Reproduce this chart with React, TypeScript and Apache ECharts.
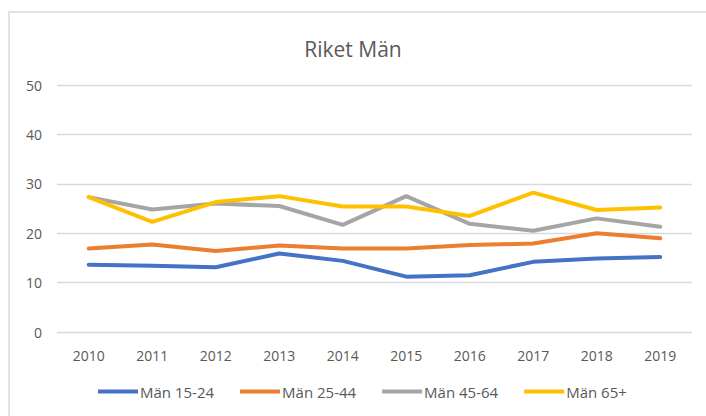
import React, { useEffect, useRef } from "react";
import * as echarts from "echarts";

const years = ["2010", "2011", "2012", "2013", "2014", "2015", "2016", "2017", "2018", "2019"];
const man1524 = [13.6, 13.4, 13.1, 15.9, 14.4, 11.2, 11.5, 14.2, 14.9, 15.2];
const man2544 = [16.9, 17.7, 16.4, 17.5, 16.9, 16.9, 17.6, 17.9, 20.0, 19.0];
const man4564 = [27.3, 24.8, 26.0, 25.5, 21.7, 27.5, 21.9, 20.5, 23.0, 21.3];
const man65 = [27.3, 22.3, 26.3, 27.5, 25.4, 25.4, 23.5, 28.2, 24.7, 25.2];
const seriesNames = ["Män 15-24", "Män 25-44", "Män 45-64", "Män 65+"];
const colors = ["#4472C4", "#ED7D31", "#A5A5A5", "#FFC000"];

export default function App() {
  const ref = useRef<HTMLDivElement>(null);
  useEffect(() => {
    if (!ref.current) return;
    const chart = echarts.init(ref.current, null, { renderer: "svg" });
    const font = "'Open Sans', sans-serif";
    const data = [man1524, man2544, man4564, man65];
    chart.setOption({
      animation: false,
      backgroundColor: "#ffffff",
      color: colors,
      textStyle: { fontFamily: font },
      title: {
        text: "Riket Män",
        left: "center",
        top: 33,
        textStyle: { fontFamily: font, fontSize: 21, fontWeight: "normal", color: "#595959" },
      },
      graphic: [
        {
          type: "rect",
          shape: { x: 9, y: 12, width: 720, height: 430 },
          style: { fill: "none", stroke: "#d9d9d9", lineWidth: 1.5 },
          silent: true,
        },
      ],
      legend: {
        bottom: 12,
        left: 93,
        icon: "rect",
        itemWidth: 40,
        itemHeight: 4,
        itemGap: 26,
        textStyle: { fontFamily: font, fontSize: 15, color: "#595959", padding: [0, 0, 0, -3] },
        data: seriesNames,
      },
      grid: { left: 57, right: 14, top: 85, bottom: 84 },
      xAxis: {
        type: "category",
        data: years,
        boundaryGap: true,
        axisLine: { show: false },
        axisTick: { show: false },
        axisLabel: { fontFamily: font, fontSize: 14, color: "#595959", margin: 16 },
      },
      yAxis: {
        type: "value",
        min: 0,
        max: 50,
        interval: 10,
        axisLine: { show: false },
        axisTick: { show: false },
        splitLine: { lineStyle: { color: "#d9d9d9", width: 1.3 } },
        axisLabel: { fontFamily: font, fontSize: 14, color: "#595959", margin: 15 },
      },
      series: data.map((d, i) => ({
        name: seriesNames[i],
        type: "line",
        data: d,
        showSymbol: false,
        symbol: "none",
        lineStyle: { width: 4, color: colors[i], cap: "round", join: "round" },
        itemStyle: { color: colors[i] },
      })),
    });
    return () => chart.dispose();
  }, []);
  return <div ref={ref} style={{ position: "fixed", left: 0, top: 0, width: 706, height: 416 }} />;
}
